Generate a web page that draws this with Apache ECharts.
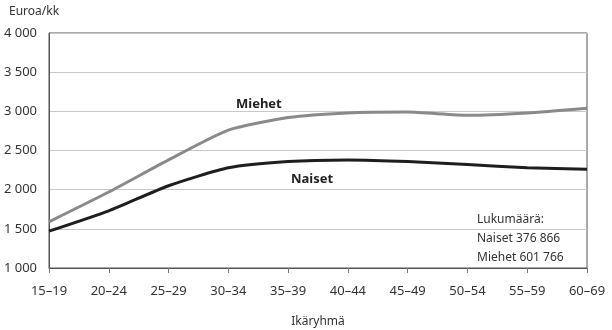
<!DOCTYPE html>
<html lang="fi">
<head>
  <meta charset="UTF-8">
  <title>Euroa/kk ikäryhmittäin</title>
  <style>
    html, body { margin: 0; padding: 0; background: #fff; }
    #chart { width: 612px; height: 330px; }
  </style>
  <script src="https://cdn.jsdelivr.net/npm/echarts@6/dist/echarts.min.js"></script>
</head>
<body>
  <div id="chart"></div>
  <script>
    // ikäryhmät ja keskiansiot (luettu kuvasta)
    const ageGroups = ['15–19', '20–24', '25–29', '30–34', '35–39', '40–44', '45–49', '50–54', '55–59', '60–69'];
    const miehet = [1590, 1970, 2380, 2760, 2920, 2980, 2990, 2950, 2980, 3040];
    const naiset = [1470, 1730, 2050, 2280, 2360, 2380, 2360, 2320, 2280, 2260];
    const countLines = ['Lukumäärä:', 'Naiset 376 866', 'Miehet 601 766'];

    const font = 'Noto Sans';
    const myChart = echarts.init(document.getElementById('chart'));

    const option = {
      animation: false,
      textStyle: { fontFamily: font },
      grid: {
        left: 49, right: 25, top: 33, bottom: 62,
        outerBoundsMode: 'none',
        show: true, borderColor: '#555', borderWidth: 1
      },
      xAxis: {
        type: 'category',
        data: ageGroups,
        boundaryGap: false,
        name: 'Ikäryhmä',
        nameLocation: 'middle',
        nameGap: 48,
        nameTextStyle: { color: '#333', fontSize: 12 },
        axisLine: { lineStyle: { color: '#555' } },
        axisTick: { show: true, length: 5, lineStyle: { color: '#777' } },
        axisLabel: { color: '#333', fontSize: 13, margin: 17 },
        splitLine: { show: false }
      },
      yAxis: {
        type: 'value',
        min: 1000, max: 4000, interval: 500,
        axisLine: { show: true, lineStyle: { color: '#555' } },
        axisTick: { show: false },
        axisLabel: {
          color: '#333', fontSize: 13, margin: 12,
          formatter: v => String(v).replace(/\B(?=(\d{3})+(?!\d))/g, ' ')
        },
        splitLine: { lineStyle: { color: '#c8c8c8' } }
      },
      series: [
        {
          name: 'Miehet', type: 'line', data: miehet,
          symbol: 'none', smooth: 0.2,
          lineStyle: { color: '#8a8a8a', width: 3 }
        },
        {
          name: 'Naiset', type: 'line', data: naiset,
          symbol: 'none', smooth: 0.2,
          lineStyle: { color: '#1e1e1e', width: 3 }
        }
      ],
      graphic: [
        { type: 'text', left: 9, top: 6, style: { text: 'Euroa/kk', font: '12px ' + font, fill: '#333' } },
        { type: 'text', left: 236, top: 98, style: { text: 'Miehet', font: 'bold 13px ' + font, fill: '#222' } },
        { type: 'text', left: 291, top: 173, style: { text: 'Naiset', font: 'bold 13px ' + font, fill: '#222' } },
        {
          type: 'text', left: 477, top: 210,
          style: { text: countLines.join('\n'), font: '12px ' + font, fill: '#333', lineHeight: 19 }
        }
      ]
    };
    myChart.setOption(option);
  </script>
</body>
</html>
